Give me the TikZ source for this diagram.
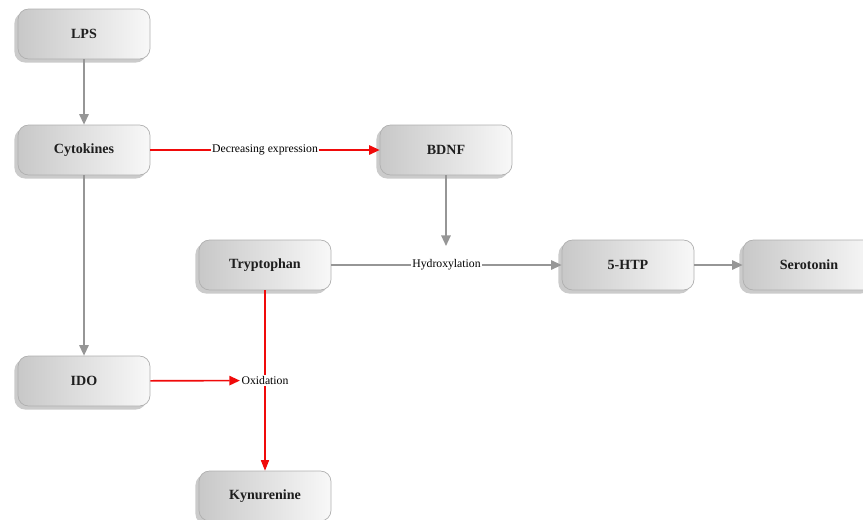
\documentclass[tikz,border=0pt]{standalone}
\usepackage{fontspec}
\setmainfont{Liberation Serif}
\usepackage{tikz}
\usetikzlibrary{arrows.meta,positioning,shadows,calc}
\usepackage{xcolor}
\definecolor{flowgray}{RGB}{150,150,150}
\definecolor{flowred}{RGB}{240,10,10}
\definecolor{boxedge}{RGB}{175,175,175}
\definecolor{boxdark}{RGB}{200,200,200}
\definecolor{boxlight}{RGB}{248,248,248}
\definecolor{boxtext}{RGB}{30,30,30}
\tikzset{
    stepbox/.style={rectangle, rounded corners=9pt, draw=boxedge, line width=0.6pt,
        left color=boxdark, right color=boxlight, minimum width=3.96cm, minimum height=1.5cm,
        font=\fontsize{12}{14}\selectfont\bfseries, text=boxtext,
        drop shadow={shadow xshift=-3pt, shadow yshift=-3pt, fill=black!45, opacity=0.45}},
    gline/.style={line width=1.4pt, flowgray, -{Triangle[length=9pt,width=8pt]}},
    rline/.style={line width=1.4pt, flowred, -{Triangle[length=9pt,width=8pt]}},
    rthin/.style={line width=0.9pt, flowred, -{Triangle[length=9pt,width=7pt]}},
    edgelabel/.style={font=\fontsize{10}{12}\selectfont, fill=white, inner sep=1pt, text=black},
}
\begin{document}
\begin{tikzpicture}[x=0.03cm, y=-0.03cm]
    \useasboundingbox (0,0) rectangle (863,519);
    % Boxes
    \foreach \name/\x/\y/\txt in {lps/84/34/LPS, cyto/84/150/Cytokines, bdnf/446/150/BDNF,
        tryp/265/265/Tryptophan, htp/628/265/5-HTP, sero/809/265/Serotonin,
        ido/84/381/IDO, kyn/265/496/Kynurenine} {
        \node[stepbox] (\name) at (\x,\y) {\txt};
    }

    % Gray arrows
    \draw[gline] (lps) -- (cyto);
    \draw[gline] (cyto) -- (ido);
    \draw[gline] (tryp) -- (htp) node[edgelabel, midway] (hydro) {Hydroxylation};
    \draw[gline] (htp) -- (sero);
    \coordinate (hytop) at (446,246);
    \draw[gline] (bdnf) -- (hytop);

    % Red arrows
    \draw[rline] (cyto) -- (bdnf) node[edgelabel, midway] (decr) {Decreasing expression};
    \draw[rthin] (tryp) -- (kyn) node[edgelabel, midway] (oxid) {Oxidation};
    \draw[rline] (ido) -- (oxid);
\end{tikzpicture}
\end{document}
